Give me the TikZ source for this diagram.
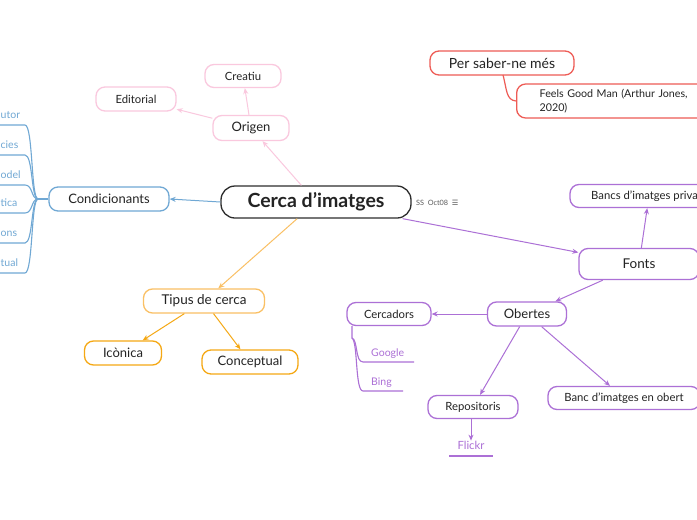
\documentclass[tikz,border=0pt]{standalone}
\usepackage{fontspec}
\setmainfont{Lato}
\newfontfamily\symfont{DejaVu Sans}
\usetikzlibrary{arrows.meta}
\definecolor{cpink}{RGB}{250,200,222}
\definecolor{cblue}{RGB}{112,168,212}
\definecolor{corl}{RGB}{250,192,100}
\definecolor{cord}{RGB}{245,168,20}
\definecolor{cred}{RGB}{238,92,86}
\definecolor{cpur}{RGB}{172,112,214}
\definecolor{cdark}{RGB}{45,45,45}
\definecolor{ctxt}{RGB}{35,35,35}
\definecolor{cgray}{RGB}{90,90,90}
\tikzset{
 box/.style={draw, rounded corners=9pt, fill=white, line width=1.3pt, text=ctxt, inner sep=0pt, align=center},
 arr/.style={-{Stealth[length=6pt,width=5pt]}, line width=1pt},
 leaf/.style={inner sep=0pt, font=\fontsize{10.5}{12}\selectfont},
 f11/.style={font=\fontsize{11.3}{13}\selectfont},
 f12/.style={font=\fontsize{13}{15}\selectfont},
}
\begin{document}
\begin{tikzpicture}[x=1pt,y=-1pt]
\useasboundingbox (0,0) rectangle (697,520);
\fill[white] (0,0) rectangle (697,520);
\clip (0,0) rectangle (697,520);

% central
\node[box, draw=cdark, minimum width=190pt, minimum height=32pt, rounded corners=14pt, font=\fontsize{19.5}{22}\selectfont\bfseries] (c) at (316,202) {Cerca d’imatges};
\node[anchor=west, inner sep=0pt, text=cgray, font=\fontsize{7.3}{8}\selectfont] (meta) at (416,203) {SS\enspace Oct08\enspace{\symfont ☰}};

% Origen (pink)
\node[box, draw=cpink, minimum width=76pt, minimum height=25pt, f12] (orig) at (251,128) {Origen};
\node[box, draw=cpink, minimum width=76pt, minimum height=23pt, f11] (crea) at (243,76) {Creatiu};
\node[box, draw=cpink, minimum width=80pt, minimum height=24pt, f11] (edit) at (136,99) {Editorial};
\draw[arr, cpink] (c) -- (orig);
\draw[arr, cpink] (orig) -- (crea);
\draw[arr, cpink] (orig) -- (edit);

% Condicionants (blue)
\node[box, draw=cblue, minimum width=120pt, minimum height=24pt, f12] (cond) at (109,199) {Condicionants};
\draw[arr, cblue] (c.west) -- (cond.east);
\coordinate (j) at (38,199);
\draw[cblue, line width=1.2pt] (cond.west) -- (j);
\foreach \n/\t/\y in {a/utor/125, b/cies/155, d/odel/185, e/tica/213, f/ons/243, g/tual/273}{
  \node[leaf, anchor=base west, text=cblue] (l\n) at (0.5,\y-7) {\t};
  \coordinate (u\n) at (0,\y);
  \draw[cblue, line width=1.1pt] (j) .. controls (31,199) and (33,\y) .. (25,\y) -- (u\n);
}

% Tipus de cerca (orange)
\node[box, draw=corl, minimum width=121pt, minimum height=24pt, font=\fontsize{13.5}{16}\selectfont] (tip) at (204,301) {Tipus de cerca};
\node[box, draw=cord, minimum width=77pt, minimum height=24pt, f12] (ico) at (123,353) {Icònica};
\node[box, draw=cord, minimum width=96pt, minimum height=24pt, f12] (conc) at (250,362) {Conceptual};
\draw[arr, corl] (c) -- (tip);
\draw[arr, cord] (tip) -- (ico);
\draw[arr, cord] (tip) -- (conc);

% Per saber-ne mes (red)
\node[box, draw=cred, minimum width=144pt, minimum height=24pt, font=\fontsize{14}{16}\selectfont] (per) at (502,63) {Per saber-ne més};
\node[box, draw=cred, anchor=west, minimum height=34pt, text width=180pt, inner xsep=23pt, align=left, font=\fontsize{10.7}{14}\selectfont] (feel) at (516,101) {Feels Good Man (Arthur Jones,\\2020)};
\draw[cred, line width=1.2pt] (503,75) .. controls (507,90) and (506,100) .. (feel.west);

% Fonts (purple)
\node[box, draw=cpur, minimum width=120pt, minimum height=31pt, font=\fontsize{13.5}{16}\selectfont] (fonts) at (639,264) {Fonts};
\node[box, draw=cpur, minimum width=158pt, minimum height=23pt, f11] (priv) at (649,196) {Bancs d’imatges privats};
\node[box, draw=cpur, minimum width=79pt, minimum height=24pt, f12] (obe) at (527,314) {Obertes};
\node[box, draw=cpur, minimum width=84pt, minimum height=23pt, f11] (cerc) at (389,314) {Cercadors};
\node[box, draw=cpur, minimum width=90pt, minimum height=23pt, f11] (repo) at (473,407) {Repositoris};
\node[box, draw=cpur, minimum width=152pt, minimum height=23pt, f11] (banc) at (624,398) {Banc d’imatges en obert};
\draw[arr, cpur] (c) -- (fonts);
\draw[arr, cpur] (fonts) -- (priv);
\draw[arr, cpur] (fonts) -- (obe);
\draw[arr, cpur] (obe) -- (cerc);
\draw[arr, cpur] (obe) -- (repo);
\draw[arr, cpur] (obe) -- (banc);

\node[leaf, anchor=base west, text=cpur] (goog) at (371,356) {Google};
\node[leaf, anchor=base west, text=cpur] (bing) at (371,385) {Bing};
\coordinate (cs) at (352,326);
\coordinate (ge) at (414,362);
\coordinate (be) at (403,391);
\draw[cpur, line width=1.1pt] (cs) -- (352,338) .. controls (358,340) and (355,362) .. (363,362) -- (ge);
\draw[cpur, line width=1.1pt] (352,338) .. controls (358,342) and (355,391) .. (363,391) -- (be);

\node[inner sep=0pt, text=cpur, f11] (flk) at (471,445) {Flickr};
\coordinate (fa) at (449,456);
\coordinate (fb) at (493,456);
\draw[cpur, line width=1.1pt] (fa) -- (fb);
\draw[arr, cpur] (repo.south -| flk) -- (flk.north);
\end{tikzpicture}
\end{document}
